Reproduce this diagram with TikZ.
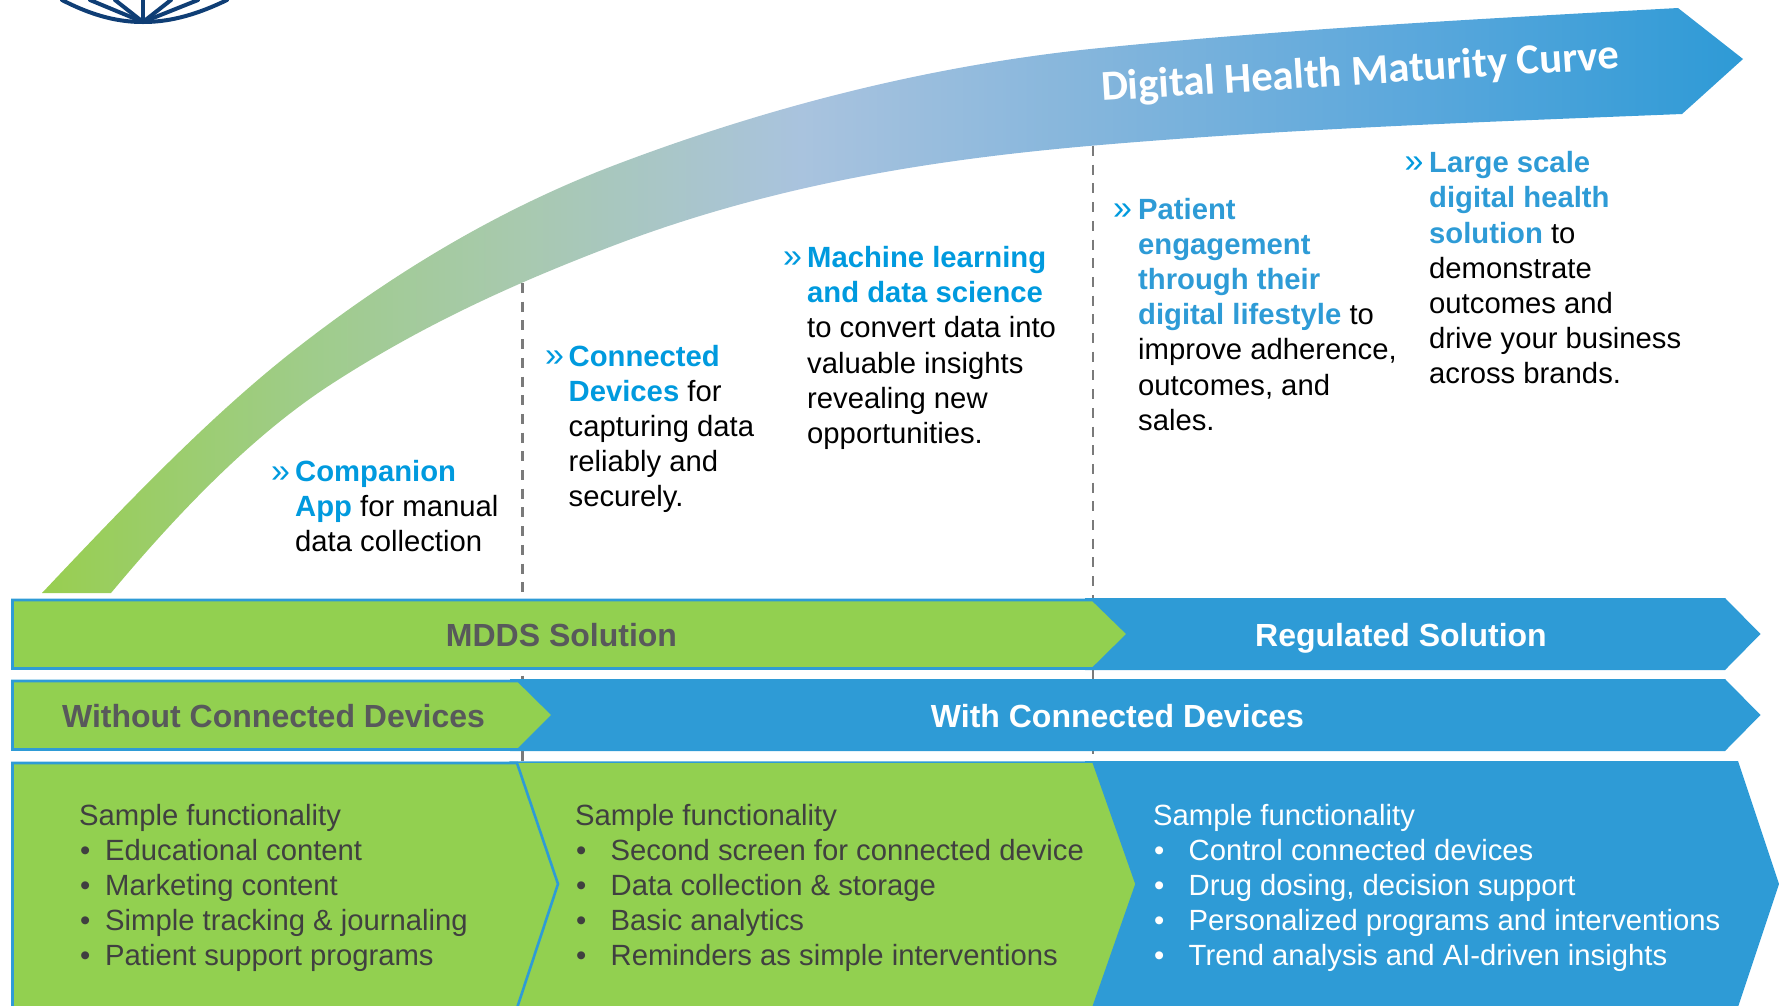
\documentclass[tikz,border=0pt]{standalone}
\usepackage{fontspec}
\setmainfont{Liberation Sans}
\newfontfamily\titlefont{Carlito}
\definecolor{grn}{HTML}{92D050}
\definecolor{blu}{HTML}{2E9BD6}
\definecolor{hlblue}{HTML}{009ADE}
\definecolor{hlbluetwo}{HTML}{2E9BD6}
\definecolor{navy}{HTML}{0F3E75}
\definecolor{bartext}{HTML}{58595B}
\definecolor{bodytext}{HTML}{404040}
\pgfdeclarehorizontalshading{maturity}{100bp}{
  rgb(0bp)=(0.596,0.808,0.314);
  rgb(25bp)=(0.596,0.808,0.314);
  rgb(33bp)=(0.624,0.800,0.545);
  rgb(39.1bp)=(0.659,0.788,0.686);
  rgb(47.3bp)=(0.663,0.765,0.871);
  rgb(56.1bp)=(0.514,0.710,0.863);
  rgb(65bp)=(0.361,0.659,0.863);
  rgb(75bp)=(0.180,0.604,0.839);
  rgb(100bp)=(0.180,0.604,0.839)}
\tikzset{
  curvetext/.style={anchor=base west,inner sep=0pt,align=left,text=black,font=\fontsize{29.25}{35.1}\selectfont},
  chev/.style={anchor=base west,inner sep=0pt,font=\fontsize{34}{40}\selectfont},
  functext/.style={anchor=base west,inner sep=0pt,align=left,font=\fontsize{29.25}{35.1}\selectfont},
  barlabel/.style={anchor=base,inner sep=0pt,font=\bfseries\fontsize{32}{38}\selectfont},
  guide/.style={draw=black!52,line width=2.2pt,dash pattern=on 10pt off 8.7pt},
  panelgreen/.style={fill=grn,draw=blu,line width=2.6pt,line join=miter},
  panelblue/.style={fill=blu,draw=none},
  globe/.style={draw=navy,line width=4pt,line cap=round}
}
\newcommand{\hl}[1]{\textcolor{hlblue}{\bfseries #1}}
\newcommand{\hlb}[1]{\textcolor{hlbluetwo}{\bfseries #1}}
\newcommand{\bulA}{\makebox[26pt][l]{\hspace{1pt}•}}
\newcommand{\bulB}{\makebox[35.5pt][l]{\hspace{1pt}•}}
\begin{document}
\begin{tikzpicture}[x=1pt,y=-1pt]
\useasboundingbox (0,0) rectangle (1779,1005);
\clip (0,0) rectangle (1779,1005);
% logo fragment
\draw[globe] (62,0) .. controls (95,17) and (120,22) .. (143,22) .. controls (166,22) and (192,17) .. (227,0);
\draw[globe] (143,22) -- (143,0);
\draw[globe] (143,22) -- (115,0);
\draw[globe] (143,22) -- (171,0);
\draw[globe] (143,22) -- (90,0);
\draw[globe] (143,22) -- (198,0);
% maturity curve
\shade[shading=maturity]
  (42,593) .. controls (127,503) and (212,414) .. (297,348)
  .. controls (403,265.3) and (509,205.3) .. (615,165)
  .. controls (776.7,103.6) and (938.3,64.2) .. (1100,48)
  .. controls (1292.7,28.7) and (1485.3,18.6) .. (1678,8)
  -- (1743,59) -- (1682,114)
  .. controls (1488,121.8) and (1294,128.5) .. (1100,145)
  .. controls (938.3,158.7) and (776.7,183.6) .. (615,245)
  .. controls (520,281.1) and (425,323.2) .. (330,385)
  .. controls (257,432.5) and (184,505.4) .. (111,593)
  -- cycle;
\node[anchor=base west,inner sep=0pt,rotate=3.6,text=white,font=\titlefont\bfseries\fontsize{42.6}{48}\selectfont] (title) at (1102,101) {Digital Health Maturity Curve};
% dashed guides
\coordinate (ga) at (522.5,283);
\coordinate (gb) at (522.5,762);
\coordinate (gc) at (1093,146);
\coordinate (gd) at (1093,762);
\draw[guide] (ga) -- (gb);
\draw[guide] (gc) -- (gd);
% row 1
\fill[panelblue] (1085,598) -- (1725,598) -- (1760.5,634) -- (1725,670) -- (1085,670) -- cycle;
\draw[panelgreen] (12.5,600) -- (1093,600) -- (1128,634) -- (1093,668.5) -- (12.5,668.5) -- cycle;
\node[barlabel,text=bartext] (mdds) at (561.5,646) {MDDS Solution};
\node[barlabel,text=white] (reg) at (1401,646) {Regulated Solution};
% row 2
\fill[panelblue] (510,679) -- (1725,679) -- (1760.5,715) -- (1725,751) -- (510,751) -- cycle;
\draw[panelgreen] (12.5,681) -- (518.5,681) -- (553,715) -- (518.5,749.5) -- (12.5,749.5) -- cycle;
\node[barlabel,text=bartext] (without) at (273.5,727) {Without Connected Devices};
\node[barlabel,text=white] (with) at (1117.5,727) {With Connected Devices};
% row 3
\fill[panelblue] (1085,761) -- (1738,761) -- (1779,884) -- (1738,1007) -- (1085,1007) -- cycle;
\fill[grn,draw=blu,line width=1.5pt] (510,762) -- (1093,762) -- (1136,884) -- (1093,1007) -- (510,1007) -- cycle;
\draw[panelgreen] (12.5,763) -- (517,763) -- (558,884) -- (517,1008) -- (12.5,1008) -- cycle;
% curve texts
\node[chev,text=hlblue] (c1) at (271,482.5) {»};
\node[curvetext] (t1) at (295,551.6) {\hl{Companion}\\\hl{App} for manual\\data collection};
\node[chev,text=hlblue] (c2) at (545,366.5) {»};
\node[curvetext] (t2) at (568.5,506.4) {\hl{Connected}\\\hl{Devices} for\\capturing data\\reliably and\\securely.};
\node[chev,text=hlblue] (c3) at (783,267.2) {»};
\node[curvetext] (t3) at (807,443.2) {\hl{Machine learning}\\\hl{and data science}\\to convert data into\\valuable insights\\revealing new\\opportunities.};
\node[chev,text=hlblue] (c4) at (1113,219) {»};
\node[curvetext] (t4) at (1138,430.1) {\hlb{Patient}\\\hlb{engagement}\\\hlb{through their}\\\hlb{digital lifestyle} to\\improve adherence,\\outcomes, and\\sales.};
\node[chev,text=hlblue] (c5) at (1404.5,172.5) {»};
\node[curvetext] (t5) at (1429,383.4) {\hlb{Large scale}\\\hlb{digital health}\\\hlb{solution} to\\demonstrate\\outcomes and\\drive your business\\across brands.};
% functionality lists
\node[functext,text=bodytext] (f1) at (79,965.5) {Sample functionality\\\bulA Educational content\\\bulA Marketing content\\\bulA Simple tracking \& journaling\\\bulA Patient support programs};
\node[functext,text=bodytext] (f2) at (575,965.5) {Sample functionality\\\bulB Second screen for connected device\\\bulB Data collection \& storage\\\bulB Basic analytics\\\bulB Reminders as simple interventions};
\node[functext,text=white] (f3) at (1153,965.5) {Sample functionality\\\bulB Control connected devices\\\bulB Drug dosing, decision support\\\bulB Personalized programs and interventions\\\bulB Trend analysis and AI-driven insights};
\end{tikzpicture}
\end{document}
